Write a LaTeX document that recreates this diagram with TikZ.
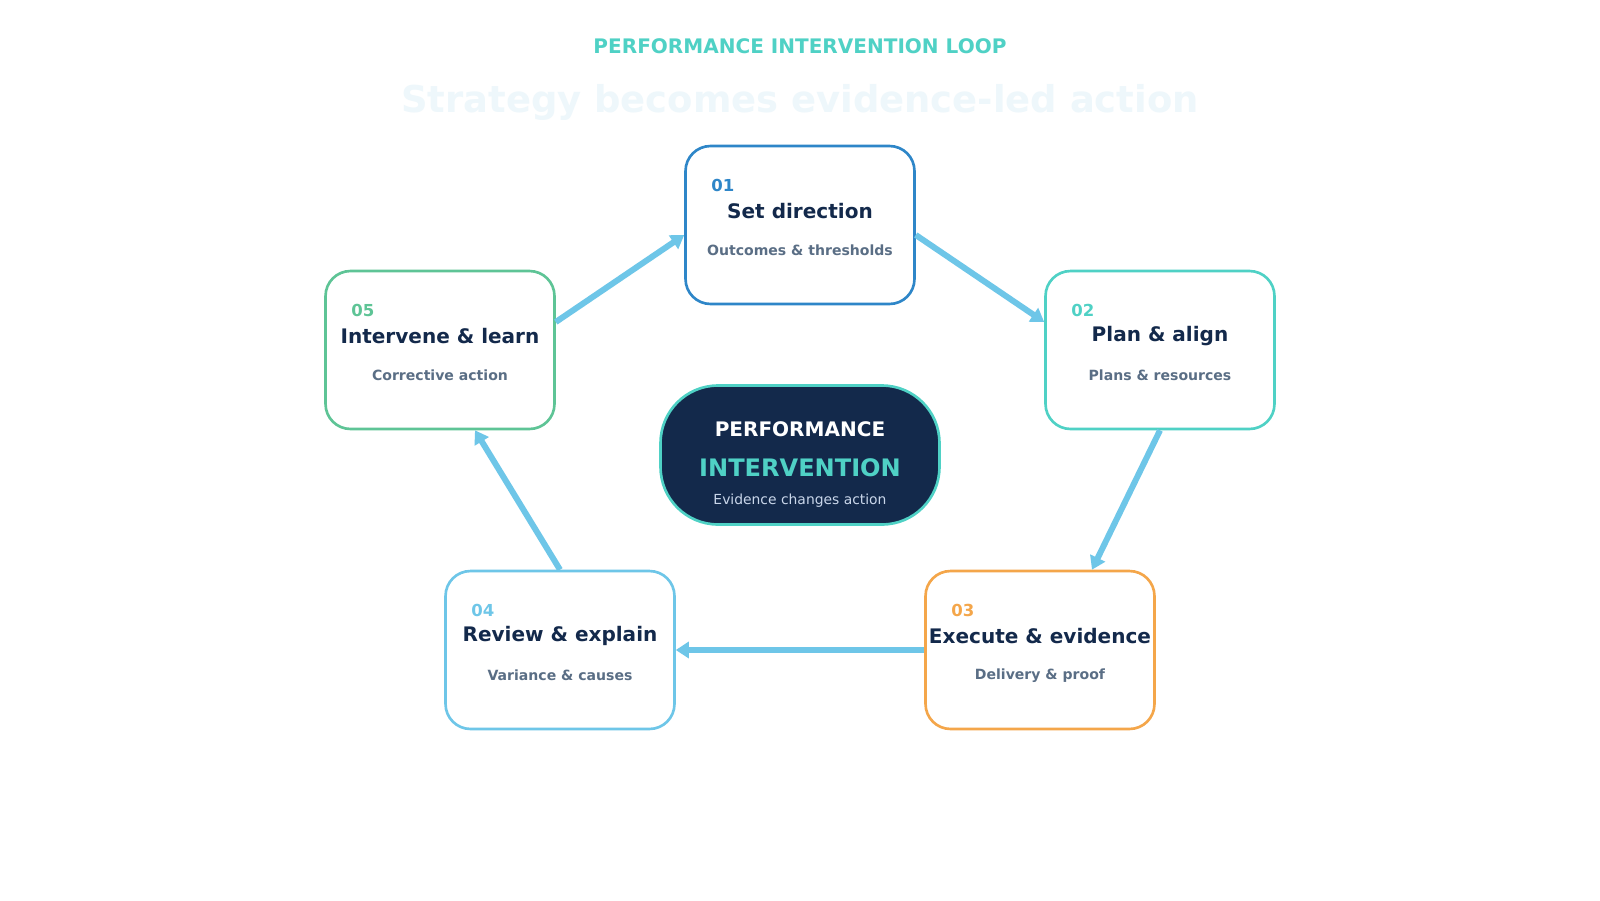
\documentclass[tikz,border=0pt]{standalone}
\usepackage{fontspec}
\setmainfont{DejaVu Sans}
\usetikzlibrary{arrows.meta, calc, positioning}

\definecolor{navy}{HTML}{13294B}
\definecolor{loopteal}{HTML}{4FD1C5}
\definecolor{loopblue}{HTML}{2E86C8}
\definecolor{looporange}{HTML}{F4A64A}
\definecolor{loopsky}{HTML}{6EC6E8}
\definecolor{loopgreen}{HTML}{5EC496}
\definecolor{subgray}{HTML}{5A6E85}
\definecolor{paletext}{HTML}{C9D6EA}
\definecolor{ghost}{HTML}{EEF7FB}

\tikzset{
    stage/.style={draw, fill=white, rounded corners=0.5cm, line width=1.5pt,
        minimum width=4.58cm, minimum height=3.16cm},
    hub/.style={draw=loopteal, fill=navy, rounded corners=1.15cm, line width=1.5pt,
        minimum width=5.58cm, minimum height=2.78cm},
    stagenum/.style={anchor=base west, inner sep=0, font=\fontsize{9.4}{11}\selectfont\bfseries},
    stagetitle/.style={anchor=base, inner sep=0, text=navy, font=\fontsize{11.4}{13}\selectfont\bfseries},
    stagesub/.style={anchor=base, inner sep=0, text=subgray, font=\fontsize{8}{10}\selectfont\bfseries},
    flow/.style={draw=loopsky, line width=3.4pt, -{Triangle[length=0.26cm, width=0.32cm]}}
}

\begin{document}
\begin{tikzpicture}[x=0.02cm, y=-0.02cm]
    \path[fill=white] (0,0) rectangle (1600,900);

    % heading
    \node[anchor=base, inner sep=0, text=loopteal, font=\fontsize{11.4}{13}\selectfont\bfseries] (kicker) at (800,53) {PERFORMANCE INTERVENTION LOOP};
    \node[anchor=base, inner sep=0, text=ghost, font=\fontsize{21}{24}\selectfont\bfseries] (headline) at (800,112) {Strategy becomes evidence-led action};

    % the five stages
    \node[stage, draw=loopblue]   (stage1) at (800,225) {};
    \node[stage, draw=loopteal]   (stage2) at (1160,350) {};
    \node[stage, draw=looporange] (stage3) at (1040,650) {};
    \node[stage, draw=loopsky]    (stage4) at (560,650) {};
    \node[stage, draw=loopgreen]  (stage5) at (440,350) {};

    \node[stagenum, text=loopblue] (num1) at (711,191) {01};
    \node[stagetitle] (title1) at (800,218) {Set direction};
    \node[stagesub]   (sub1)   at (800,255) {Outcomes \& thresholds};

    \node[stagenum, text=loopteal] (num2) at (1071,316) {02};
    \node[stagetitle] (title2) at (1160,341) {Plan \& align};
    \node[stagesub]   (sub2)   at (1160,380) {Plans \& resources};

    \node[stagenum, text=looporange] (num3) at (951,616) {03};
    \node[stagetitle] (title3) at (1040,643) {Execute \& evidence};
    \node[stagesub]   (sub3)   at (1040,679) {Delivery \& proof};

    \node[stagenum, text=loopsky] (num4) at (471,616) {04};
    \node[stagetitle] (title4) at (560,641) {Review \& explain};
    \node[stagesub]   (sub4)   at (560,680) {Variance \& causes};

    \node[stagenum, text=loopgreen] (num5) at (351,316) {05};
    \node[stagetitle] (title5) at (440,343) {Intervene \& learn};
    \node[stagesub]   (sub5)   at (440,380) {Corrective action};

    % centre
    \node[hub] (hub) at (800,455) {};
    \node[anchor=base, inner sep=0, text=white, font=\fontsize{11.4}{13}\selectfont\bfseries] (hubtop) at (800,436) {PERFORMANCE};
    \node[anchor=base, inner sep=0, text=loopteal, font=\fontsize{13.7}{16}\selectfont\bfseries] (hubmid) at (800,476) {INTERVENTION};
    \node[anchor=base, inner sep=0, text=paletext, font=\fontsize{7.9}{10}\selectfont] (hubbot) at (800,504) {Evidence changes action};

    % loop
    \draw[flow] ($(stage1.east)+(0,10)$) -- ($(stage2.west)+(0,-28)$);
    \draw[flow] (stage2.south) -- ($(stage3.north)+(52,0)$);
    \draw[flow] (stage3.west) -- (stage4.east);
    \draw[flow] (stage4.north) -- ($(stage5.south)+(35,0)$);
    \draw[flow] ($(stage5.east)+(0,-28)$) -- ($(stage1.west)+(0,10)$);
\end{tikzpicture}
\end{document}
